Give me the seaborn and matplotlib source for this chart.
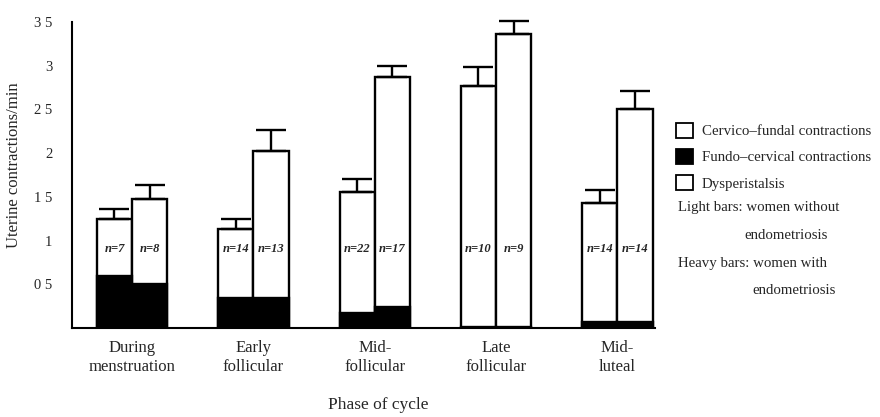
import matplotlib
matplotlib.use("Agg")
import matplotlib.pyplot as plt
import matplotlib.patches as mpatches
import seaborn as sns
import pandas as pd
import numpy as np

phases = ["During\nmenstruation", "Early\nfollicular", "Mid-\nfollicular", "Late\nfollicular", "Mid-\nluteal"]
groups = ["Light", "Heavy"]
total_light = [1.25, 1.13, 1.56, 2.77, 1.43]
total_heavy = [1.48, 2.03, 2.87, 3.36, 2.51]
fundo_light = [0.60, 0.34, 0.17, 0.01, 0.07]
fundo_heavy = [0.50, 0.34, 0.24, 0.01, 0.07]
err_light = [0.11, 0.12, 0.14, 0.21, 0.15]
err_heavy = [0.16, 0.24, 0.13, 0.15, 0.20]
n_light = [7, 14, 22, 10, 14]
n_heavy = [8, 13, 17, 9, 14]
yticks = [0.5, 1, 1.5, 2, 2.5, 3, 3.5]
ytick_labels = ["0 5", "1", "1 5", "2", "2 5", "3", "3 5"]

sns.set_theme(style="white")
plt.rcParams["font.family"] = ["Liberation Serif", "DejaVu Serif"]

df = pd.DataFrame({
    "phase": phases * 2,
    "group": ["Light"] * 5 + ["Heavy"] * 5,
    "total": total_light + total_heavy,
    "fundo": fundo_light + fundo_heavy,
})

fig = plt.figure(figsize=(8.8, 4.17), dpi=100)
W, H = 880, 417
ax = fig.add_axes([72 / W, 1 - 328 / H, (655 - 72) / W, (328 - 22) / H])

sns.barplot(data=df, x="phase", y="total", hue="group", hue_order=groups,
            palette=["white", "white"], edgecolor="black", linewidth=1.7,
            width=0.58, gap=0, ax=ax, legend=False, errorbar=None, saturation=1)
sns.barplot(data=df, x="phase", y="fundo", hue="group", hue_order=groups,
            palette=["black", "black"], edgecolor="black", linewidth=1.7,
            width=0.58, gap=0, ax=ax, legend=False, errorbar=None, saturation=1)

tot = [total_light, total_heavy]
errs = [err_light, err_heavy]
ns = [n_light, n_heavy]
for gi, cont in enumerate(ax.containers[:2]):
    xs = [p.get_x() + p.get_width() / 2 for p in cont.patches]
    eb = ax.errorbar(xs, tot[gi], yerr=[np.zeros(5), errs[gi]], fmt="none",
                     ecolor="black", elinewidth=1.7, capsize=11, capthick=1.7, zorder=5)
    for art in eb.lines[1] + eb.lines[2]:
        art.set_clip_on(False)
    for x, n in zip(xs, ns[gi]):
        ax.text(x, 0.9, f"n={n}", ha="center", va="center", fontsize=9,
                fontstyle="italic", fontweight="bold", zorder=6)

ax.set_xlim(-0.495, 4.31)
ax.set_ylim(0, 3.5)
ax.set_yticks(yticks)
ax.set_yticklabels(ytick_labels, fontsize=10.5)
ax.tick_params(axis="y", direction="in", length=4, width=1.2, color="black", pad=14)
ax.tick_params(axis="x", length=0, pad=9, labelsize=12)
ax.set_xlabel("")
ax.set_ylabel("Uterine contractions/min", fontsize=12)
ax.yaxis.set_label_coords(-(72 - 22) / (655 - 72), (328 - 165) / (328 - 22))
for s in ["top", "right"]:
    ax.spines[s].set_visible(False)
for s in ["left", "bottom"]:
    ax.spines[s].set_color("black")
    ax.spines[s].set_linewidth(1.5)

fig.text(378 / W, 1 - 405 / H, "Phase of cycle", ha="center", va="center", fontsize=12.5)

handles = [
    mpatches.Patch(facecolor="white", edgecolor="black", linewidth=1.3, label="Cervico–fundal contractions"),
    mpatches.Patch(facecolor="black", edgecolor="black", linewidth=1.3, label="Fundo–cervical contractions"),
    mpatches.Patch(facecolor="white", edgecolor="black", linewidth=1.3, label="Dysperistalsis"),
]
fig.legend(handles=handles, loc="upper left", bbox_to_anchor=(670 / W, 1 - 117 / H),
           frameon=False, fontsize=10.7, handlelength=1.15, handleheight=1.15,
           handletextpad=0.6, labelspacing=0.72, borderaxespad=0)

fig.text(678 / W, 1 - 208 / H, "Light bars: women without", fontsize=10.7, va="center")
fig.text(744 / W, 1 - 235 / H, "endometriosis", fontsize=10.7, va="center")
fig.text(678 / W, 1 - 263 / H, "Heavy bars: women with", fontsize=10.7, va="center")
fig.text(752 / W, 1 - 290 / H, "endometriosis", fontsize=10.7, va="center")

fig.savefig("out.png", dpi=100)
